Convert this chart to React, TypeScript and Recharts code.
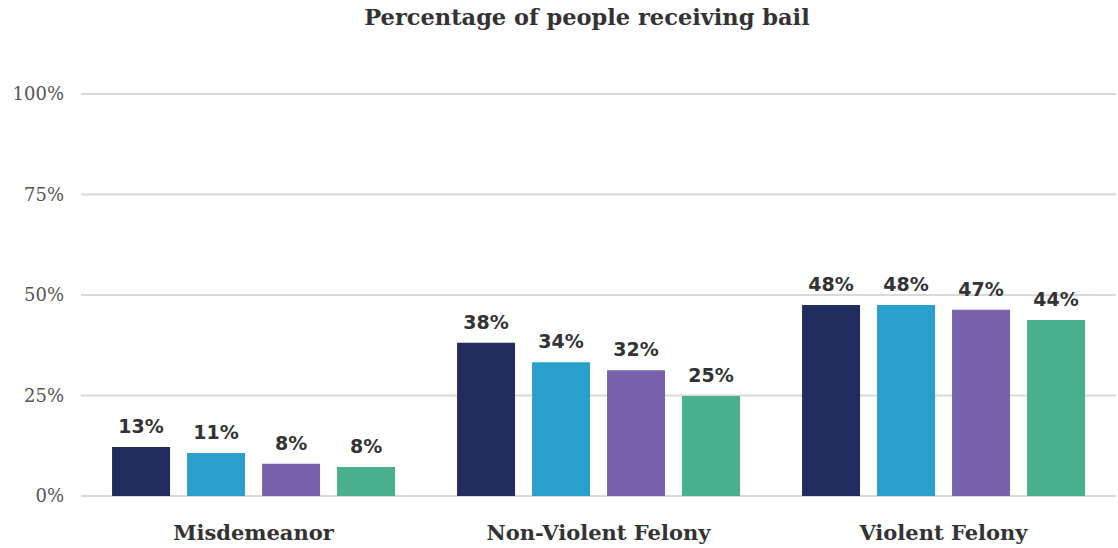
import React from "react";
import { BarChart, Bar, XAxis, YAxis, CartesianGrid, LabelList } from "recharts";

const categories = ["Misdemeanor", "Non-Violent Felony", "Violent Felony"];
const series1 = [12.2, 38.1, 47.5];
const series2 = [10.7, 33.3, 47.5];
const series3 = [8.0, 31.3, 46.3];
const series4 = [7.2, 24.9, 43.8];
const labels1 = ["13%", "38%", "48%"];
const labels2 = ["11%", "34%", "48%"];
const labels3 = ["8%", "32%", "47%"];
const labels4 = ["8%", "25%", "44%"];
const yTicks = [0, 25, 50, 75, 100];
const title = "Percentage of people receiving bail";

const colors = ["#212d5e", "#2a9fce", "#7862ac", "#49af8e"];

const data = categories.map((c, i) => ({
  category: c,
  s1: series1[i],
  s2: series2[i],
  s3: series3[i],
  s4: series4[i],
  l1: labels1[i],
  l2: labels2[i],
  l3: labels3[i],
  l4: labels4[i],
}));

const labelStyle = {
  fontFamily: "DejaVu Sans",
  fontWeight: 700,
  fontSize: 19,
  fill: "#333333",
};

export default function App() {
  const keys = ["s1", "s2", "s3", "s4"];
  const lkeys = ["l1", "l2", "l3", "l4"];
  return (
    <div style={{ position: "absolute", left: 0, top: 0, width: 1118, height: 548, background: "#fff" }}>
      <div
        style={{
          position: "absolute",
          left: 56,
          top: 3,
          width: 1062,
          textAlign: "center",
          fontFamily: "DejaVu Serif",
          fontWeight: 700,
          fontSize: 22.5,
          color: "#333333",
          lineHeight: "28px",
        }}
      >
        {title}
      </div>
      <BarChart
        width={1118}
        height={548}
        data={data}
        margin={{ top: 94, right: 2, bottom: 0, left: 0 }}
        barCategoryGap="9%"
        barGap={17}
      >
        <CartesianGrid vertical={false} stroke="#d9d9d9" strokeWidth={2} />
        <YAxis
          domain={[0, 100]}
          ticks={yTicks}
          width={81}
          axisLine={false}
          tickLine={false}
          tickSize={0}
          tickMargin={17}
          tickFormatter={(v: number) => `${v}%`}
          tick={{ fontFamily: "DejaVu Serif", fontSize: 18, fill: "#555555" }}
          interval={0}
        />
        <XAxis
          dataKey="category"
          height={52}
          axisLine={false}
          tickLine={false}
          tickSize={0}
          tickMargin={29}
          tick={{ fontFamily: "DejaVu Serif", fontWeight: 700, fontSize: 21, fill: "#333333" }}
        />
        {keys.map((k, i) => (
          <Bar key={k} dataKey={k} fill={colors[i]} isAnimationActive={false}>
            <LabelList dataKey={lkeys[i]} position="top" offset={14} style={labelStyle} />
          </Bar>
        ))}
      </BarChart>
    </div>
  );
}
